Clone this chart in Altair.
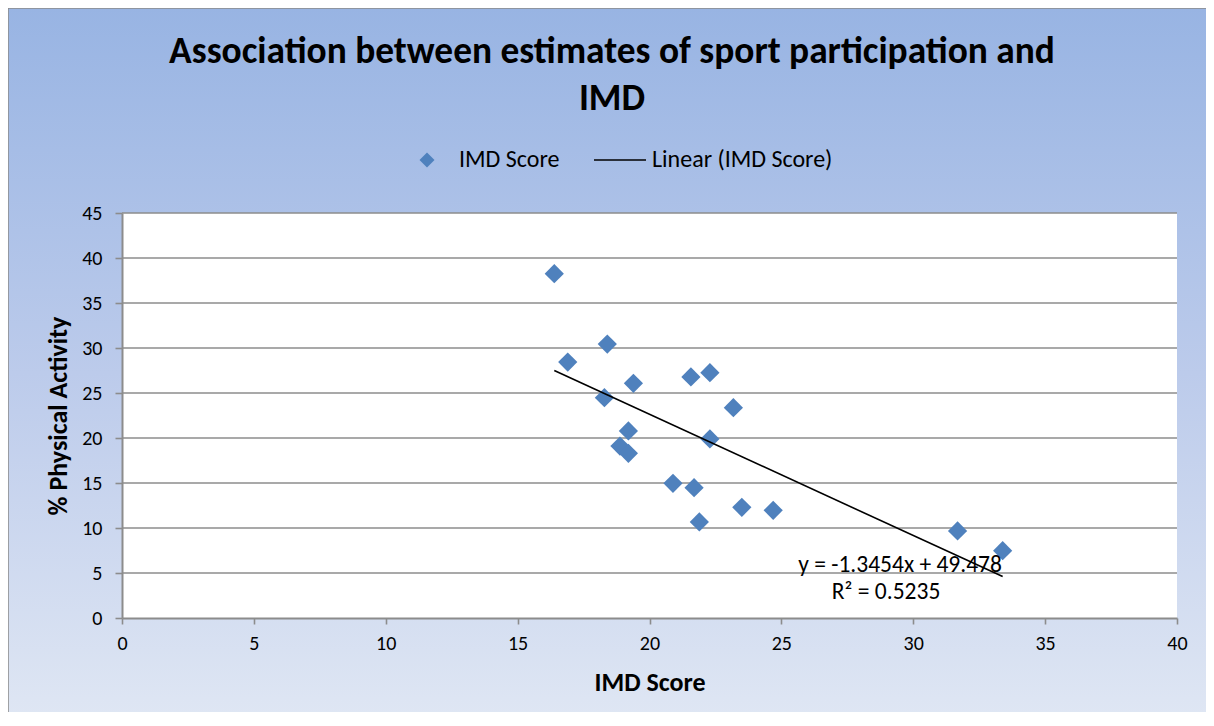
import altair as alt
import pandas as pd

# ---- data ----
imd_score = [16.39, 16.90, 18.40, 18.29, 19.39, 19.20, 18.88, 19.20, 21.57, 22.29,
             23.18, 22.29, 20.89, 21.69, 21.89, 23.50, 24.69, 31.68, 33.39]
physical_activity = [38.26, 28.44, 30.44, 24.48, 26.07, 20.78, 19.11, 18.30, 26.78, 27.26,
                     23.37, 19.89, 14.96, 14.48, 10.67, 12.30, 11.96, 9.67, 7.48]
x_ticks = [0, 5, 10, 15, 20, 25, 30, 35, 40]
y_ticks = [0, 5, 10, 15, 20, 25, 30, 35, 40, 45]
grid_values = [5, 10, 15, 20, 25, 30, 35, 40, 45]
title_lines = ["Association between estimates of sport participation and", "IMD"]
legend_labels = ["IMD Score", "Linear (IMD Score)"]
equation_lines = ["y = -1.3454x + 49.478", "R\u00b2 = 0.5235"]
equation_x = [29.5, 28.97]
equation_y = [5.9, 2.9]

FONT = "Calibri, Carlito, Lato, sans-serif"
W, H = 1055, 405
BLUE = "#4f81bd"
GRID = "#8c8c8c"

pts = pd.DataFrame({"imd": imd_score, "pa": physical_activity})
one = pd.DataFrame({"x0": [0], "x1": [40], "y0": [0], "y1": [45]})
grid_df = pd.DataFrame({"g": grid_values, "x0": [0] * len(grid_values),
                        "x1": [40] * len(grid_values)})
eq_df = pd.DataFrame({"t": equation_lines, "ex": equation_x, "ey": equation_y})

xs = alt.Scale(domain=[0, 40], nice=False, zero=False)
ys = alt.Scale(domain=[0, 45], nice=False, zero=False)
x_axis = alt.Axis(values=x_ticks, grid=False, tickSize=6, labelPadding=9,
                  titlePadding=16, zindex=1, labelFlush=False, labelOverlap=False)
y_axis = alt.Axis(values=y_ticks, grid=False, tickSize=7, labelPadding=13,
                  titlePadding=10, zindex=1, labelFlush=False, labelOverlap=False)


def X(field):
    return alt.X(field, type="quantitative", scale=xs, axis=x_axis, title="IMD Score")


def Y(field):
    return alt.Y(field, type="quantitative", scale=ys, axis=y_axis,
                 title="% Physical Activity")


bg = alt.Chart(one).mark_rect(
    fill=alt.LinearGradient(
        gradient="linear",
        stops=[alt.GradientStop(offset=0, color="#98b4e3"),
               alt.GradientStop(offset=0.5, color="#bccbeb"),
               alt.GradientStop(offset=1, color="#e1e8f4")],
        x1=0, x2=0, y1=0, y2=1),
    stroke="#8a8a8a", strokeWidth=1.5
).encode(x=alt.value(-114), x2=alt.value(W + 60), y=alt.value(-205), y2=alt.value(H + 120))

plot_bg = alt.Chart(one).mark_rect(fill="white").encode(
    x=X("x0"), x2="x1", y=Y("y0"), y2="y1")

grid = alt.Chart(grid_df).mark_rule(color=GRID, strokeWidth=1.6).encode(
    y=Y("g"), x=X("x0"), x2="x1")

points = alt.Chart(pts).mark_point(shape="diamond", filled=True, opacity=1,
                                   color=BLUE, size=370).encode(
    x=X("imd"), y=Y("pa"))

trend = alt.Chart(pts).transform_regression("imd", "pa").mark_line(
    color="black", strokeWidth=1.6).encode(x=X("imd"), y=Y("pa"))

eq = alt.Chart(eq_df).mark_text(font=FONT, fontSize=23.5, color="black",
                                align="center", baseline="middle").encode(
    x=X("ex"), y=Y("ey"), text="t:N")

title1 = alt.Chart(one).mark_text(font=FONT, fontSize=37.4, fontWeight="bold",
                                  color="black", align="center",
                                  baseline="alphabetic").encode(
    x=alt.value(490), y=alt.value(-150), text=alt.value(title_lines[0]))
title2 = alt.Chart(one).mark_text(font=FONT, fontSize=37.4, fontWeight="bold",
                                  color="black", align="center",
                                  baseline="alphabetic").encode(
    x=alt.value(490), y=alt.value(-103), text=alt.value(title_lines[1]))

leg_sym = alt.Chart(one).mark_point(shape="diamond", filled=True, opacity=1,
                                    color=BLUE, size=225).encode(
    x=alt.value(305), y=alt.value(-53))
leg_t1 = alt.Chart(one).mark_text(font=FONT, fontSize=24, color="black",
                                  align="left", baseline="middle").encode(
    x=alt.value(337), y=alt.value(-53), text=alt.value(legend_labels[0]))
leg_line = alt.Chart(one).mark_rule(color="black", strokeWidth=1.6).encode(
    x=alt.value(472), x2=alt.value(524), y=alt.value(-53))
leg_t2 = alt.Chart(one).mark_text(font=FONT, fontSize=24, color="black",
                                  align="left", baseline="middle").encode(
    x=alt.value(530), y=alt.value(-53), text=alt.value(legend_labels[1]))

chart = alt.layer(bg, plot_bg, grid, points, trend, eq, title1, title2,
                  leg_sym, leg_t1, leg_line, leg_t2).properties(
    width=W, height=H,
    autosize=alt.AutoSizeParams(type="none"),
    padding={"left": 114, "top": 205, "right": 29, "bottom": 94},
).configure_view(stroke=None).configure_axis(
    domainColor=GRID, domainWidth=2, tickColor=GRID, tickWidth=1.6,
    labelFont=FONT, labelFontSize=20, labelColor="black",
    titleFont=FONT, titleFontSize=26, titleFontWeight="bold", titleColor="black",
)

chart.save("out.html", embed_options={"renderer": "svg", "actions": False})
